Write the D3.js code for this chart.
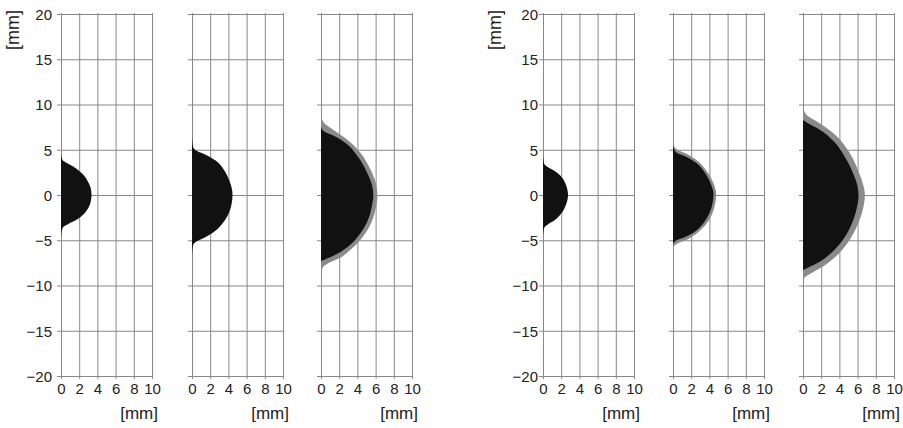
<!DOCTYPE html>
<html>
<head>
<meta charset="utf-8">
<script src="https://cdn.jsdelivr.net/npm/d3@7"></script>
<style>
body { margin: 0; background: #fff; }
svg text { font-family: "Liberation Sans", Arial, sans-serif; fill: #222; }
.grid line { stroke: #888; stroke-width: 1; }
.grid path { display: none; }
</style>
</head>
<body>
<svg id="chart" width="903" height="428"></svg>
<script>
// axis ticks (mm)
const xTicks = [0, 2, 4, 6, 8, 10]
const yTicks = [20, 15, 10, 5, 0, -5, -10, -15, -20]

// lesion profiles, [x mm, y mm], top tip -> bottom tip along the outline
const shape1Core = [[0,4.6],[0.15,3.9],[0.7,3.5],[1.5,3.05],[2.3,2.4],[2.95,1.5],[3.3,0.6],[3.35,0],[3.25,-0.8],[2.9,-1.6],[2.3,-2.3],[1.6,-2.8],[0.8,-3.2],[0.2,-3.6],[0,-4.6]]
const shape2Core = [[0,6.5],[0.1,5.4],[0.55,4.85],[1.5,4.45],[2.6,3.8],[3.5,2.8],[4.1,1.6],[4.4,0.6],[4.45,0],[4.35,-1.0],[3.95,-2.2],[3.3,-3.2],[2.4,-4.1],[1.3,-4.75],[0.4,-5.2],[0.1,-5.6],[0,-6.6]]
const shape3Rim = [[0,8.9],[0.3,8.0],[1.5,7.1],[2.9,6.1],[4.3,4.7],[5.4,2.9],[6.05,1.2],[6.2,0],[6.05,-1.3],[5.55,-3.0],[4.6,-4.6],[3.3,-6.0],[2.0,-7.0],[0.7,-7.6],[0.2,-8.0],[0,-8.8]]
const shape3Core = [[0,7.5],[0.4,7.0],[1.4,6.55],[2.8,5.65],[4.0,4.3],[5.0,2.6],[5.6,1.1],[5.75,0],[5.6,-1.2],[5.1,-2.9],[4.2,-4.4],[3.0,-5.7],[1.8,-6.5],[0.6,-7.05],[0,-7.3]]
const shape4Core = [[0,4.3],[0.15,3.4],[0.6,3.05],[1.2,2.7],[1.9,2.15],[2.45,1.3],[2.7,0.5],[2.75,0],[2.65,-0.7],[2.35,-1.5],[1.85,-2.25],[1.2,-2.85],[0.6,-3.2],[0.15,-3.6],[0,-4.5]]
const shape5Rim = [[0,6.5],[0.15,5.3],[0.6,4.95],[1.6,4.5],[2.7,3.75],[3.7,2.65],[4.45,1.3],[4.7,0.5],[4.75,0],[4.6,-1.1],[4.1,-2.5],[3.3,-3.6],[2.4,-4.4],[1.4,-5.0],[0.5,-5.35],[0.15,-5.6],[0,-6.3]]
const shape5Core = [[0,5.6],[0.3,4.75],[1.5,4.2],[2.6,3.5],[3.5,2.45],[4.15,1.25],[4.4,0.5],[4.45,0],[4.3,-1.1],[3.8,-2.4],[3.0,-3.5],[2.1,-4.25],[1.2,-4.7],[0.3,-5.05],[0,-5.5]]
const shape6Rim = [[0,9.7],[0.4,8.85],[1.8,7.95],[3.7,6.5],[5.1,4.7],[6.15,2.5],[6.65,1.0],[6.8,0],[6.6,-1.5],[6.0,-3.3],[4.9,-5.3],[3.6,-6.8],[2.2,-7.9],[0.8,-8.7],[0.2,-9.1],[0,-9.7]]
const shape6Core = [[0,8.3],[0.5,7.95],[1.8,7.25],[3.4,5.9],[4.6,4.2],[5.55,2.3],[6.0,0.9],[6.1,0],[5.9,-1.5],[5.35,-3.2],[4.35,-5.0],[3.1,-6.4],[1.8,-7.4],[0.6,-8.0],[0,-8.3]]

const panels = [
    {core: shape1Core, rim: null, yLabels: true},
    {core: shape2Core, rim: null, yLabels: false},
    {core: shape3Core, rim: shape3Rim, yLabels: false},
    {core: shape4Core, rim: null, yLabels: true},
    {core: shape5Core, rim: shape5Rim, yLabels: false},
    {core: shape6Core, rim: shape6Rim, yLabels: false}
]

// layout
const panelLeft = [61, 192, 321, 543, 673, 803]
const labelPad = [5, 5, 5, 1, 1, 1]
const pw = 91
const plotTop = 14
const plotBottom = 376

let svg = d3.select('#chart')
let yScale = d3.scaleLinear().domain([-20, 20]).range([plotBottom, plotTop])

panels.forEach((p, i) => {
    let x0 = panelLeft[i]
    let xScale = d3.scaleLinear().domain([0, 10]).range([x0, x0 + pw])
    let g = svg.append('g')

    // horizontal grid + y ticks
    let yAxis = d3.axisLeft(yScale).tickValues(yTicks).tickSize(-(pw + 4)).tickPadding(labelPad[i])
    if (!p.yLabels) yAxis.tickFormat('')
    g.append('g').attr('class', 'grid').attr('transform', `translate(${x0 - 4},0)`).call(yAxis)
        .selectAll('text').attr('font-size', 15).attr('dy', '0.36em')

    // vertical grid + x ticks
    let xAxis = d3.axisBottom(xScale).tickValues(xTicks).tickSize(-(plotBottom - plotTop + 4)).tickPadding(4)
    g.append('g').attr('class', 'grid').attr('transform', `translate(0,${plotBottom + 3})`).call(xAxis)
        .selectAll('text').attr('font-size', 15)

    g.append('text').text('[mm]').attr('x', x0 + 97).attr('y', 419)
        .attr('text-anchor', 'end').attr('font-size', 17)

    if (p.yLabels) {
        g.append('text').text('[mm]').attr('text-anchor', 'middle').attr('font-size', 18)
            .attr('transform', `translate(${x0 - 42},30) rotate(-90)`)
    }

    let line = d3.line()
        .x(d => xScale(d[0]))
        .y(d => yScale(d[1]))
        .curve(d3.curveMonotoneY)

    if (p.rim) {
        g.append('path').attr('d', line(p.rim) + 'Z').attr('fill', '#8a8a8a')
    }
    g.append('path').attr('d', line(p.core) + 'Z').attr('fill', '#111')
})
</script>
</body>
</html>
